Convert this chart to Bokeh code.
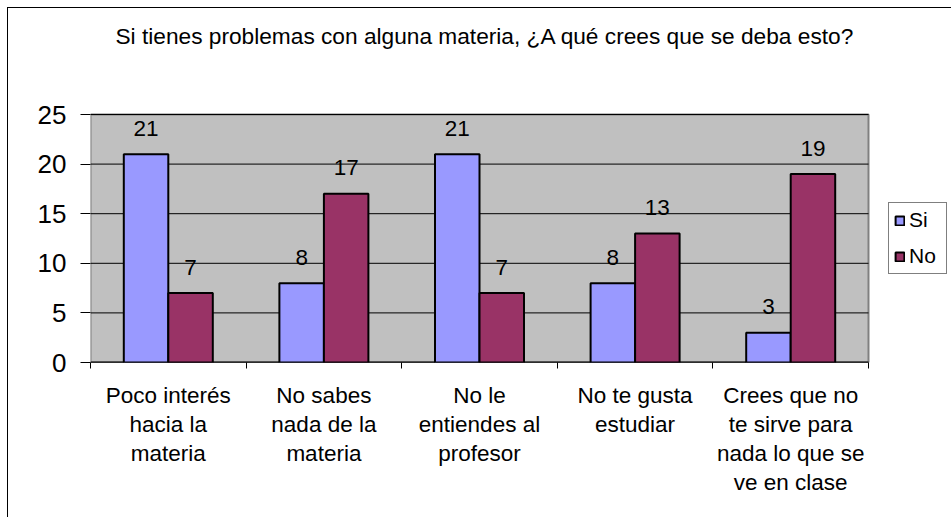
from bokeh.plotting import figure
from bokeh.models import Range1d, FixedTicker, ColumnDataSource, Legend, LegendItem
from bokeh.core.properties import value
from bokeh.transform import dodge
from bokeh.embed import file_html
from bokeh.resources import INLINE

title_text = "Si tienes problemas con alguna materia, ¿A qué crees que se deba esto?"
categories = [
    "Poco interés\nhacia la\nmateria",
    "No sabes\nnada de la\nmateria",
    "No le\nentiendes al\nprofesor",
    "No te gusta\nestudiar",
    "Crees que no\nte sirve para\nnada lo que se\nve en clase",
]
si_values = [21, 8, 21, 8, 3]
no_values = [7, 17, 7, 13, 19]
series_names = ["Si", "No"]
y_ticks = [0, 5, 10, 15, 20, 25]

FONT = "Liberation Sans"
n = len(categories)
y_max = y_ticks[-1]
positions = [i + 0.5 for i in range(n)]
src = ColumnDataSource(dict(
    x=positions, si=si_values, no=no_values,
    si_txt=[str(v) for v in si_values], no_txt=[str(v) for v in no_values],
))

# layout (pixels): plot area 778 x 248, with room above (title) and right (legend)
W, H = 944, 510
left_pad, bottom_pad = 82, 156
plot_w, plot_h = 778, 248
frame_w, frame_h = W - left_pad, H - bottom_pad
x_end = n * frame_w / plot_w
y_end = y_max * frame_h / plot_h

p = figure(width=W, height=H, output_backend="svg", toolbar_location=None, title=None,
           x_range=Range1d(0, x_end), y_range=Range1d(0, y_end),
           min_border_left=left_pad, min_border_top=0, min_border_right=0,
           min_border_bottom=bottom_pad)
p.styles = {"margin-left": "7px", "margin-top": "7px",
            "border-left": "1px solid black", "border-top": "1px solid black"}
p.background_fill_color = "white"
p.border_fill_color = "white"
p.outline_line_color = None
p.xgrid.visible = False
p.ygrid.visible = False

# plot area background
p.quad(left=[0], right=[n], bottom=[0], top=[y_max], fill_color="#C0C0C0",
       line_color="#808080", line_width=2)
# gridlines
p.segment(x0=[0] * len(y_ticks), x1=[n] * len(y_ticks), y0=y_ticks, y1=y_ticks,
          line_color="black", line_width=1)
# x axis line
p.segment(x0=[0], x1=[n], y0=[0], y1=[0], line_color="black", line_width=2)

bw = 0.286
r_si = p.vbar(x=dodge("x", -bw / 2, range=p.x_range), top="si", width=bw, source=src,
              fill_color="#9999FF", line_color="black", line_width=2)
r_no = p.vbar(x=dodge("x", bw / 2, range=p.x_range), top="no", width=bw, source=src,
              fill_color="#993366", line_color="black", line_width=2)

p.text(x=dodge("x", -bw / 2, range=p.x_range), y="si", text="si_txt", source=src,
       text_align="center", text_baseline="alphabetic", y_offset=-26,
       text_font=value(FONT), text_font_size="22.5px", text_color="black")
p.text(x=dodge("x", bw / 2, range=p.x_range), y="no", text="no_txt", source=src,
       text_align="center", text_baseline="alphabetic", y_offset=-26,
       text_font=value(FONT), text_font_size="22.5px", text_color="black")

# title
p.text(x=[n / 2], y=[y_max], text=[title_text], x_offset=5.5, y_offset=-79,
       text_align="center", text_baseline="alphabetic",
       text_font=value(FONT), text_font_size="22.7px", text_color="black")

# y axis
p.yaxis.ticker = FixedTicker(ticks=y_ticks, minor_ticks=[])
p.yaxis.axis_line_color = None
p.yaxis.major_tick_out = 10
p.yaxis.major_tick_in = 0
p.yaxis.major_tick_line_color = "black"
p.yaxis.major_label_standoff = 14
p.yaxis.major_label_text_font = FONT
p.yaxis.major_label_text_font_size = "26px"
p.yaxis.major_label_text_color = "black"

# x axis
p.xaxis.ticker = FixedTicker(ticks=positions, minor_ticks=list(range(n + 1)))
p.xaxis.major_label_overrides = {pos: cat for pos, cat in zip(positions, categories)}
p.xaxis.major_tick_line_color = None
p.xaxis.minor_tick_out = 6
p.xaxis.minor_tick_in = 0
p.xaxis.minor_tick_line_color = "black"
p.xaxis.axis_line_color = None
p.xaxis.major_label_standoff = 14
p.xaxis.major_label_text_font = FONT
p.xaxis.major_label_text_font_size = "22.5px"
p.xaxis.major_label_text_line_height = 1.16
p.xaxis.major_label_text_color = "black"
p.xaxis.major_label_orientation = "horizontal"

# legend
lg = Legend(items=[LegendItem(label=series_names[0], renderers=[r_si]),
                   LegendItem(label=series_names[1], renderers=[r_no])],
            location=(798, 88), orientation="vertical")
lg.border_line_color = "black"
lg.border_line_width = 1
lg.background_fill_color = "white"
lg.background_fill_alpha = 1
lg.padding = 5
lg.margin = 0
lg.spacing = 12
lg.glyph_width = 11
lg.glyph_height = 11
lg.label_height = 21
lg.label_width = 32
lg.label_standoff = 4
lg.label_text_font = FONT
lg.label_text_font_size = "21px"
lg.label_text_color = "black"
p.add_layout(lg, "center")

open("out.html", "w").write(file_html(p, INLINE))
